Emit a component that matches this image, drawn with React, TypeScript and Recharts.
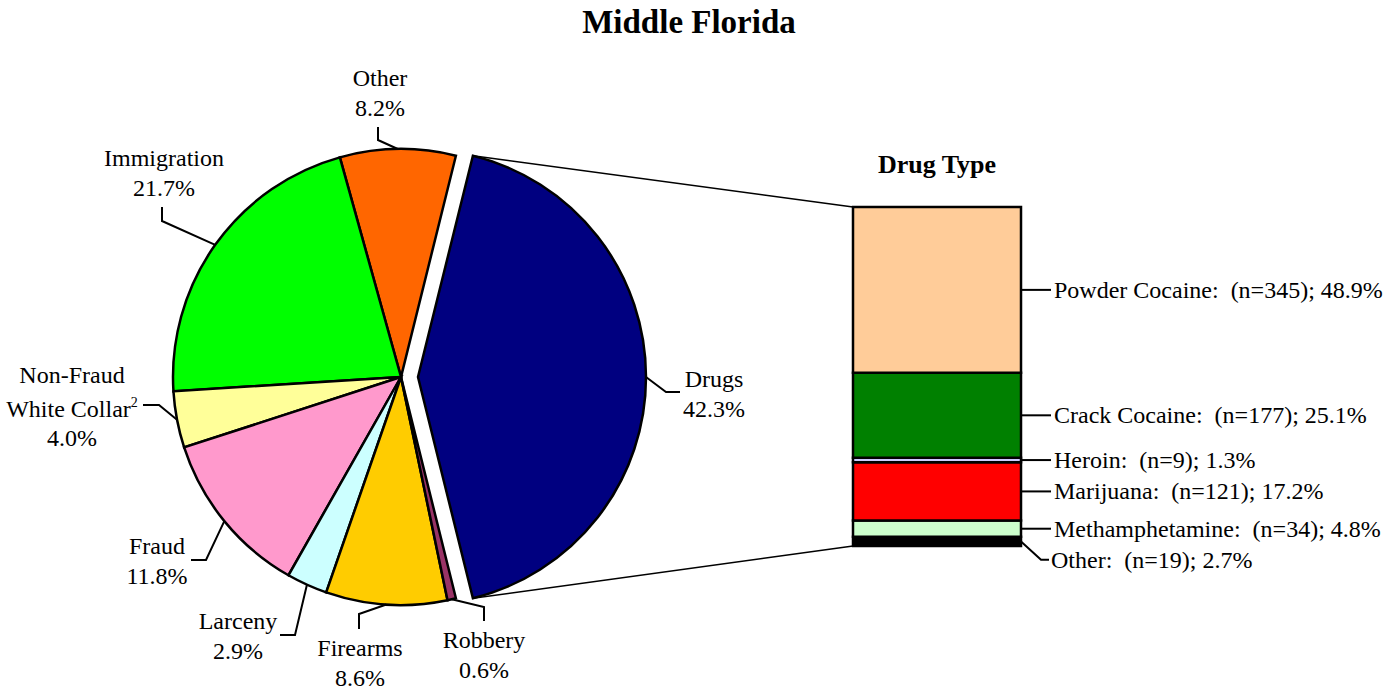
import React from 'react';
import { PieChart, Pie, Cell, BarChart, Bar, XAxis, YAxis, LabelList } from 'recharts';

// crime categories, in drawing order (Drugs first, then counterclockwise)
const crimeTypes = ['Drugs', 'Other', 'Immigration', 'Non-Fraud White Collar', 'Fraud', 'Larceny', 'Firearms', 'Robbery'];
const crimePercents = [42.3, 8.2, 21.7, 4.0, 11.8, 2.9, 8.6, 0.6];
const crimeColors = ['#000080', '#FF6600', '#00FF00', '#FFFF99', '#FF99CC', '#CCFFFF', '#FFCC00', '#993366'];

// drug breakdown, top to bottom
const drugTypes = ['Powder Cocaine', 'Crack Cocaine', 'Heroin', 'Marijuana', 'Methamphetamine', 'Other'];
const drugCounts = [345, 177, 9, 121, 34, 19];
const drugPercents = [48.9, 25.1, 1.3, 17.2, 4.8, 2.7];
const drugColors = ['#FFCC99', '#008000', '#CCCCFF', '#FF0000', '#CCFFCC', '#000000'];

const W = 1400;
const H = 690;
const FONT = '"Liberation Serif", "Times New Roman", serif';
const LABEL_SIZE = 24;

const PIE_CX = 401;
const PIE_CY = 377;
const PIE_R = 228;
const EXPLODE = 17;

const BAR_LEFT = 853;
const BAR_TOP = 207;
const BAR_RIGHT = 1021;
const BAR_BOTTOM = 546;

const RAD = Math.PI / 180;
const polar = (cx: number, cy: number, r: number, a: number) => ({
  x: cx + r * Math.cos(-a * RAD),
  y: cy + r * Math.sin(-a * RAD),
});

const pieData = crimeTypes.map((name, i) => ({ name, value: crimePercents[i] }));
const total = crimePercents.reduce((a, b) => a + b, 0);
// drugs slice centred on 3 o'clock
const START = -(crimePercents[0] / total) * 180;
const END = START + 360;

// label placement, offsets from the (slice's) pie centre: text centre x, first baseline y,
// then the stub end near the text and the elbow before it runs to the pie edge
const pieLabelLayout = [
  { tx: 296, ty: 10, stub: [262, 15], elbow: [248, 15] },
  { tx: -21, ty: -291, stub: [-23, -250], elbow: [-23, -237] },
  { tx: -237, ty: -211, stub: [-239, -170], elbow: [-239, -156] },
  { tx: -329, ty: 6, stub: [-258, 28], elbow: [-242, 28] },
  { tx: -244, ty: 177, stub: [-210, 183], elbow: [-195, 183] },
  { tx: -163, ty: 252, stub: [-121, 258], elbow: [-106, 258] },
  { tx: -41, ty: 279, stub: [-42, 252], elbow: [-42, 237] },
  { tx: 83, ty: 271, stub: [83, 244], elbow: [83, 230] },
];
const LINE_GAP = 30;

const pieLabel = (which: 'main' | 'drugs') => (props: any) => {
  const { cx, cy, outerRadius, midAngle, index } = props;
  if ((which === 'drugs') !== (index === 0)) return <g />;
  const lay = pieLabelLayout[index];
  const edge = polar(cx, cy, outerRadius, midAngle);
  const pts = [
    [cx + lay.stub[0], cy + lay.stub[1]],
    [cx + lay.elbow[0], cy + lay.elbow[1]],
    [edge.x, edge.y],
  ].map((p) => p.join(',')).join(' ');
  const name = crimeTypes[index];
  const pct = crimePercents[index].toFixed(1) + '%';
  const tx = cx + lay.tx;
  const ty = cy + lay.ty;
  const textProps = { x: tx, textAnchor: 'middle' as const, fontFamily: FONT, fontSize: LABEL_SIZE, fill: '#000' };
  let lines: React.ReactNode[];
  if (name === 'Non-Fraud White Collar') {
    lines = [
      <text key="a" {...textProps} y={ty}>Non-Fraud</text>,
      <text key="b" {...textProps} y={ty + 34}>
        White Collar<tspan fontSize={14} dy={-10}>2</tspan>
      </text>,
      <text key="c" {...textProps} y={ty + 63}>{pct}</text>,
    ];
  } else {
    lines = [
      <text key="a" {...textProps} y={ty}>{name}</text>,
      <text key="b" {...textProps} y={ty + LINE_GAP}>{pct}</text>,
    ];
  }
  let connectors: React.ReactNode = null;
  if (index === 0) {
    const top = polar(cx, cy, outerRadius, -START);
    const bottom = polar(cx, cy, outerRadius, START);
    connectors = (
      <g stroke="#000" strokeWidth={1.5}>
        <line x1={top.x} y1={top.y} x2={BAR_LEFT} y2={BAR_TOP} />
        <line x1={bottom.x} y1={bottom.y} x2={BAR_LEFT} y2={BAR_BOTTOM} />
      </g>
    );
  }
  return (
    <g>
      {connectors}
      <polyline points={pts} fill="none" stroke="#000" strokeWidth={2} />
      {lines}
    </g>
  );
};

// stacked bar row
const barRow: Record<string, any> = { name: 'Drugs' };
drugPercents.forEach((p, i) => (barRow['d' + i] = p));
const barData = [barRow];

// keep drug labels at least this far apart (px), shifting lower ones down
const BAR_H = BAR_BOTTOM - BAR_TOP;
const MIN_GAP = 31;
const labelShift: number[] = (() => {
  const out: number[] = [];
  let cum = 0;
  let prev = -Infinity;
  drugPercents.forEach((p) => {
    const mid = ((cum + p / 2) / 100) * BAR_H;
    const pos = Math.max(mid, prev + MIN_GAP);
    out.push(pos - mid);
    prev = pos;
    cum += p;
  });
  return out;
})();

const drugLabel = (i: number) => (props: any) => {
  const x = Number(props.x);
  const y = Number(props.y);
  const w = Number(props.width);
  const h = Number(props.height);
  const right = x + w;
  const mid = y + h / 2;
  const ly = mid + labelShift[i];
  const pts = ly === mid
    ? `${right},${mid} ${right + 30},${mid}`
    : `${right},${mid} ${right + 20},${ly} ${right + 28},${ly}`;
  return (
    <g>
      <polyline points={pts} fill="none" stroke="#000" strokeWidth={2} />
      <text
        x={right + (ly === mid ? 33 : 30)}
        y={ly + 8}
        fontFamily={FONT}
        fontSize={LABEL_SIZE}
        fill="#000"
        style={{ whiteSpace: 'pre' }}
      >
        {`${drugTypes[i]}:  (n=${drugCounts[i]}); ${drugPercents[i].toFixed(1)}%`}
      </text>
    </g>
  );
};

const explodedCenter = polar(PIE_CX, PIE_CY, EXPLODE, 0);

export default function App() {
  const stackOrder = drugTypes.map((_, i) => drugTypes.length - 1 - i);
  return (
    <div style={{ position: 'fixed', left: 0, top: 0, width: W, height: H, background: '#fff' }}>
      <div
        style={{
          position: 'absolute', left: 0, top: 2, width: W - 22, textAlign: 'center',
          fontFamily: FONT, fontWeight: 'bold', fontSize: 33, lineHeight: '40px',
        }}
      >
        Middle Florida
      </div>
      <div
        style={{
          position: 'absolute', left: BAR_LEFT - 60, top: 150, width: BAR_RIGHT - BAR_LEFT + 120,
          textAlign: 'center', fontFamily: FONT, fontWeight: 'bold', fontSize: 26, lineHeight: '30px',
        }}
      >
        Drug Type
      </div>
      <div style={{ position: 'absolute', left: 0, top: 0 }}>
        <PieChart width={W} height={H} margin={{ top: 0, right: 0, bottom: 0, left: 0 }}>
          <Pie
            data={pieData}
            dataKey="value"
            cx={PIE_CX}
            cy={PIE_CY}
            outerRadius={PIE_R}
            startAngle={START}
            endAngle={END}
            isAnimationActive={false}
            labelLine={false}
            label={pieLabel('main')}
          >
            {pieData.map((d, i) => (
              <Cell
                key={d.name}
                fill={i === 0 ? 'none' : crimeColors[i]}
                stroke={i === 0 ? 'none' : '#000'}
                strokeWidth={2.5}
              />
            ))}
          </Pie>
          <Pie
            data={pieData}
            dataKey="value"
            cx={explodedCenter.x}
            cy={explodedCenter.y}
            outerRadius={PIE_R}
            startAngle={START}
            endAngle={END}
            isAnimationActive={false}
            labelLine={false}
            label={pieLabel('drugs')}
          >
            {pieData.map((d, i) => (
              <Cell
                key={d.name}
                fill={i === 0 ? crimeColors[0] : 'none'}
                stroke={i === 0 ? '#000' : 'none'}
                strokeWidth={2.5}
              />
            ))}
          </Pie>
        </PieChart>
      </div>
      <div style={{ position: 'absolute', left: 0, top: 0 }}>
        <BarChart
          width={W}
          height={H}
          data={barData}
          margin={{ top: BAR_TOP, bottom: H - BAR_BOTTOM, left: BAR_LEFT, right: W - BAR_RIGHT }}
          barCategoryGap={0}
          barGap={0}
        >
          <XAxis dataKey="name" hide />
          <YAxis hide domain={[0, 100]} />
          {stackOrder.map((i) => (
            <Bar
              key={drugTypes[i]}
              dataKey={'d' + i}
              stackId="a"
              fill={drugColors[i]}
              stroke="#000"
              strokeWidth={2.5}
              isAnimationActive={false}
            >
              <LabelList dataKey={'d' + i} content={drugLabel(i)} />
            </Bar>
          ))}
        </BarChart>
      </div>
    </div>
  );
}
